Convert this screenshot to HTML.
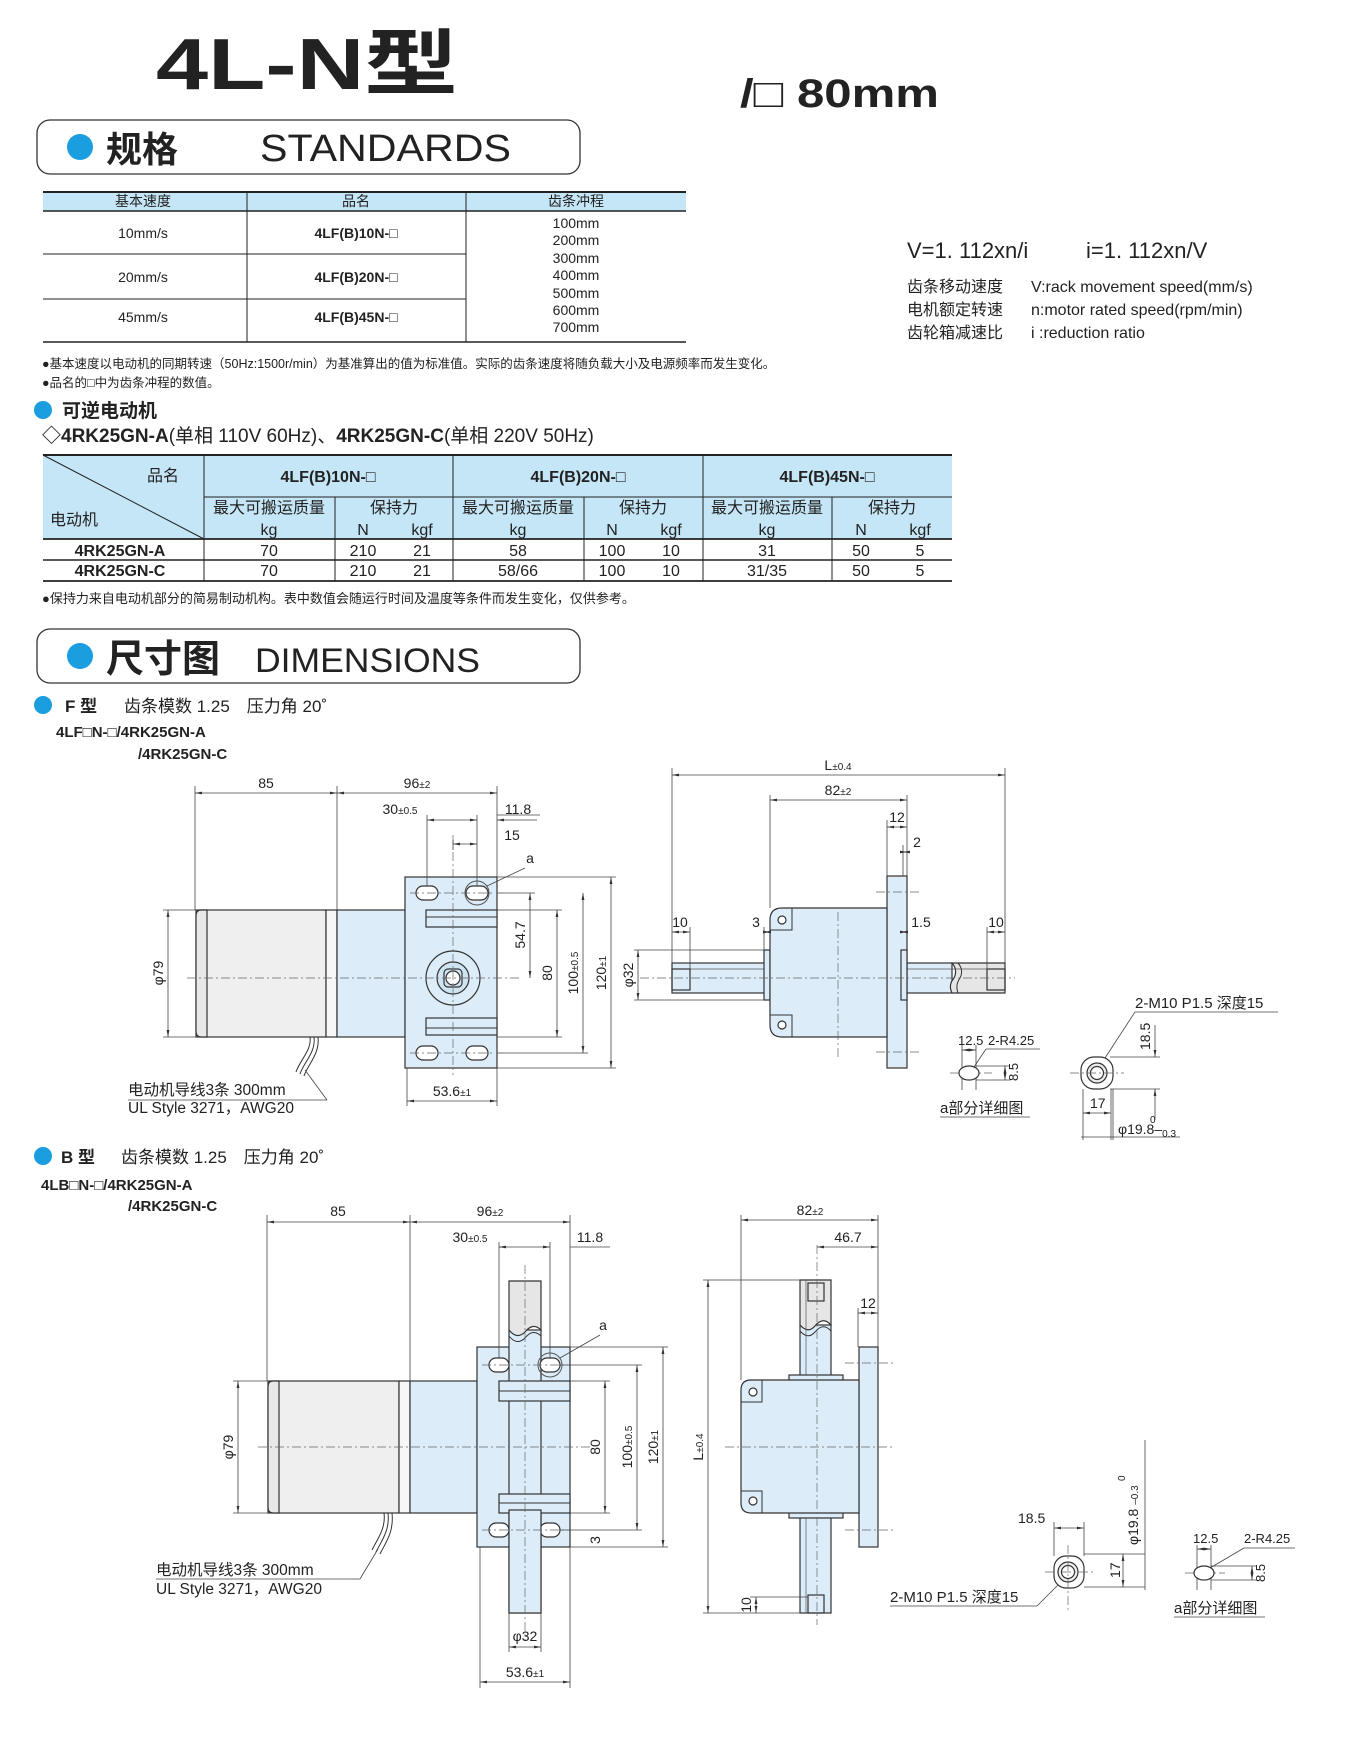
<!DOCTYPE html>
<html><head><meta charset="utf-8"><style>
html,body{margin:0;padding:0;background:#fff}
svg{display:block}
text{font-family:"Liberation Sans","Noto Sans CJK SC",sans-serif;fill:#222}
.t{font-size:14px}
.s{font-size:10px}
.b{font-weight:bold}
.d{stroke:#444;stroke-width:.8;fill:none}
.dm{stroke:#444;stroke-width:.8;fill:none;marker-start:url(#ar);marker-end:url(#ar)}
.c{stroke:#666;stroke-width:.7;stroke-dasharray:9 3 2 3;fill:none}
.o{stroke:#333;stroke-width:1.2}
.bl{fill:#dcedf9}
.gy{fill:#efefef}
.tl{stroke:#222;fill:none}
</style></head><body>
<svg width="1350" height="1750" viewBox="0 0 1350 1750" xmlns="http://www.w3.org/2000/svg">
<defs><marker id="ar" viewBox="0 0 10 10" refX="10" refY="5" markerWidth="7" markerHeight="7" orient="auto-start-reverse" markerUnits="userSpaceOnUse"><path d="M0,3L10,5L0,7z" fill="#333"/></marker></defs>

<!-- Title -->
<text x="156" y="89" font-size="72" class="b" fill="#333" textLength="302" lengthAdjust="spacingAndGlyphs">4L-N型</text>
<text x="740" y="107" font-size="40" class="b" textLength="199" lengthAdjust="spacingAndGlyphs">/□ 80mm</text>

<!-- STANDARDS box -->
<rect x="37" y="120" width="543" height="54" rx="13" fill="#fff" stroke="#333" stroke-width="1.3"/>
<circle cx="80" cy="147" r="13" fill="#1a9ee0"/>
<text x="106" y="162" font-size="36" class="b">规格</text>
<text x="260" y="161" font-size="38" textLength="251" lengthAdjust="spacingAndGlyphs">STANDARDS</text>

<!-- Table 1 -->
<rect x="43" y="192" width="643" height="19" fill="#c5e6f6"/>
<line x1="43" y1="192" x2="686" y2="192" stroke="#222" stroke-width="2"/>
<line x1="43" y1="211" x2="686" y2="211" stroke="#222" stroke-width="1.6"/>
<line x1="43" y1="342" x2="686" y2="342" stroke="#222" stroke-width="1.6"/>
<line x1="43" y1="254" x2="466" y2="254" stroke="#222"/>
<line x1="43" y1="299" x2="466" y2="299" stroke="#222"/>
<line x1="247" y1="192" x2="247" y2="342" stroke="#222"/>
<line x1="466" y1="192" x2="466" y2="342" stroke="#222"/>
<g class="t" text-anchor="middle">
<text x="143" y="206">基本速度</text><text x="356" y="206">品名</text><text x="576" y="206">齿条冲程</text>
<text x="143" y="238">10mm/s</text><text x="143" y="282">20mm/s</text><text x="143" y="322">45mm/s</text>
<text x="356" y="238" class="b">4LF(B)10N-□</text><text x="356" y="282" class="b">4LF(B)20N-□</text><text x="356" y="322" class="b">4LF(B)45N-□</text>
</g>
<g class="t" text-anchor="middle">
<text x="576" y="228">100mm</text><text x="576" y="245">200mm</text><text x="576" y="263">300mm</text><text x="576" y="280">400mm</text><text x="576" y="298">500mm</text><text x="576" y="315">600mm</text><text x="576" y="332">700mm</text>
</g>

<!-- formulas -->
<text x="907" y="258" font-size="22">V=1. 112xn/i</text>
<text x="1086" y="258" font-size="22">i=1. 112xn/V</text>
<g font-size="16">
<text x="907" y="292">齿条移动速度</text><text x="1031" y="292">V:rack movement speed(mm/s)</text>
<text x="907" y="315">电机额定转速</text><text x="1031" y="315">n:motor rated speed(rpm/min)</text>
<text x="907" y="338">齿轮箱减速比</text><text x="1031" y="338">i :reduction ratio</text>
</g>

<!-- notes -->
<g font-size="12.5">
<text x="42" y="368">●基本速度以电动机的同期转速（50Hz:1500r/min）为基准算出的值为标准值。实际的齿条速度将随负载大小及电源频率而发生变化。</text>
<text x="42" y="387">●品名的□中为齿条冲程的数值。</text>
</g>
<circle cx="43" cy="410" r="9" fill="#1a9ee0"/>
<text x="62" y="417" font-size="19" class="b">可逆电动机</text>
<text x="42" y="442" font-size="19" class="b">◇4RK25GN-A<tspan font-weight="normal">(单相 110V 60Hz)、</tspan>4RK25GN-C<tspan font-weight="normal">(单相 220V 50Hz)</tspan></text>

<!-- Table 2 -->
<rect x="43" y="455" width="909" height="84" fill="#c5e6f6"/>
<line x1="43" y1="455" x2="952" y2="455" stroke="#222" stroke-width="2"/>
<line x1="204" y1="497" x2="952" y2="497" stroke="#222"/>
<line x1="43" y1="539" x2="952" y2="539" stroke="#222" stroke-width="1.8"/>
<line x1="43" y1="560" x2="952" y2="560" stroke="#222" stroke-width="1.6"/>
<line x1="43" y1="581" x2="952" y2="581" stroke="#222" stroke-width="1.8"/>
<line x1="43" y1="455" x2="204" y2="539" stroke="#222"/>
<g stroke="#222">
<line x1="204" y1="455" x2="204" y2="581"/><line x1="453" y1="455" x2="453" y2="581"/><line x1="703" y1="455" x2="703" y2="581"/>
<line x1="335" y1="497" x2="335" y2="581"/><line x1="584" y1="497" x2="584" y2="581"/><line x1="832" y1="497" x2="832" y2="581"/>
</g>
<g font-size="16">
<text x="147" y="481">品名</text><text x="50" y="525">电动机</text>
</g>
<g font-size="16" text-anchor="middle">
<text x="328" y="482" class="b">4LF(B)10N-□</text><text x="578" y="482" class="b">4LF(B)20N-□</text><text x="827" y="482" class="b">4LF(B)45N-□</text>
<text x="269" y="513">最大可搬运质量</text><text x="394" y="513">保持力</text>
<text x="518" y="513">最大可搬运质量</text><text x="643" y="513">保持力</text>
<text x="767" y="513">最大可搬运质量</text><text x="892" y="513">保持力</text>
<text x="269" y="535">kg</text><text x="363" y="535">N</text><text x="422" y="535">kgf</text>
<text x="518" y="535">kg</text><text x="612" y="535">N</text><text x="671" y="535">kgf</text>
<text x="767" y="535">kg</text><text x="861" y="535">N</text><text x="920" y="535">kgf</text>
<text x="120" y="556" class="b">4RK25GN-A</text><text x="120" y="576" class="b">4RK25GN-C</text>
<text x="269" y="556">70</text><text x="363" y="556">210</text><text x="422" y="556">21</text>
<text x="518" y="556">58</text><text x="612" y="556">100</text><text x="671" y="556">10</text>
<text x="767" y="556">31</text><text x="861" y="556">50</text><text x="920" y="556">5</text>
<text x="269" y="576">70</text><text x="363" y="576">210</text><text x="422" y="576">21</text>
<text x="518" y="576">58/66</text><text x="612" y="576">100</text><text x="671" y="576">10</text>
<text x="767" y="576">31/35</text><text x="861" y="576">50</text><text x="920" y="576">5</text>
</g>
<text x="42" y="603" font-size="13">●保持力来自电动机部分的简易制动机构。表中数值会随运行时间及温度等条件而发生变化，仅供参考。</text>

<!-- DIMENSIONS box -->
<rect x="37" y="629" width="543" height="54" rx="13" fill="#fff" stroke="#333" stroke-width="1.3"/>
<circle cx="80" cy="656" r="13" fill="#1a9ee0"/>
<text x="106" y="672" font-size="38" class="b">尺寸图</text>
<text x="255" y="672" font-size="34" textLength="225" lengthAdjust="spacingAndGlyphs">DIMENSIONS</text>

<!-- F type header -->
<circle cx="43" cy="705" r="9" fill="#1a9ee0"/>
<text x="65" y="712" font-size="17" class="b">F 型</text>
<text x="124" y="712" font-size="17">齿条模数 1.25　压力角 20˚</text>
<text x="56" y="737" font-size="15" class="b">4LF□N-□/4RK25GN-A</text>
<text x="138" y="759" font-size="15" class="b">/4RK25GN-C</text>

<!-- ===== F front view ===== -->
<rect x="196" y="910" width="130" height="127" class="gy o"/>
<path d="M207,910 H201 Q196,910 196,916 V1031 Q196,1037 201,1037 H207 Z" fill="#e8e8e8" class="o"/>
<rect x="326" y="910" width="11" height="127" fill="#f7f7f7" class="o"/>
<rect x="337" y="910" width="68" height="127" class="bl o"/>
<rect x="405" y="877" width="92" height="191" class="bl o"/>
<rect x="426" y="910" width="71" height="17" class="bl o"/>
<line x1="426" y1="917" x2="497" y2="917" stroke="#333"/>
<rect x="426" y="1018" width="71" height="17" class="bl o"/>
<line x1="426" y1="1028" x2="497" y2="1028" stroke="#333"/>
<g class="o" fill="#fff">
<rect x="416" y="886" width="22" height="14" rx="7"/><rect x="466" y="886" width="22" height="14" rx="7"/>
<rect x="416" y="1046" width="22" height="14" rx="7"/><rect x="466" y="1046" width="22" height="14" rx="7"/>
</g>
<circle cx="477" cy="893" r="12" fill="none" stroke="#555"/>
<circle cx="453" cy="978" r="27" fill="#dcedf9" class="o"/>
<circle cx="453" cy="978" r="16" fill="#cfe4f3" class="o"/>
<rect x="444" y="969" width="18" height="18" rx="4" fill="none" class="o"/>
<circle cx="453" cy="978" r="7" fill="#fff" class="o"/>
<g class="c"><line x1="187" y1="978" x2="520" y2="978"/><line x1="453" y1="835" x2="453" y2="1075"/><line x1="410" y1="893" x2="495" y2="893"/><line x1="410" y1="1053" x2="495" y2="1053"/></g>
<path d="M310,1037 C312,1050 300,1060 296,1072 M314,1037 C316,1052 304,1062 300,1074 M318,1037 C320,1054 308,1064 304,1076" stroke="#333" fill="none"/>
<g class="d">
<line x1="195" y1="786" x2="195" y2="910"/><line x1="337" y1="786" x2="337" y2="910"/><line x1="497" y1="786" x2="497" y2="877"/>
<line x1="427" y1="815" x2="427" y2="886"/><line x1="477" y1="815" x2="477" y2="886"/><line x1="497" y1="815" x2="540" y2="815"/>
<line x1="453" y1="840" x2="453" y2="850"/>
<line x1="497" y1="893" x2="535" y2="893"/><line x1="497" y1="910" x2="562" y2="910"/><line x1="497" y1="1037" x2="562" y2="1037"/>
<line x1="497" y1="1053" x2="588" y2="1053"/><line x1="497" y1="877" x2="616" y2="877"/><line x1="497" y1="1068" x2="616" y2="1068"/>
<line x1="163" y1="910" x2="196" y2="910"/><line x1="163" y1="1037" x2="196" y2="1037"/>
<line x1="407" y1="1068" x2="407" y2="1106"/><line x1="497" y1="1068" x2="497" y2="1106"/>
<line x1="128" y1="1100" x2="327" y2="1100"/><line x1="327" y1="1100" x2="305" y2="1070"/>
<line x1="487" y1="886" x2="525" y2="868"/>
</g>
<g class="dm">
<line x1="195" y1="793" x2="337" y2="793"/><line x1="337" y1="793" x2="497" y2="793"/>
<line x1="427" y1="820" x2="477" y2="820"/><line x1="453" y1="844" x2="477" y2="844"/>
<line x1="530" y1="893" x2="530" y2="978"/><line x1="557" y1="910" x2="557" y2="1037"/>
<line x1="583" y1="893" x2="583" y2="1053"/><line x1="611" y1="877" x2="611" y2="1068"/>
<line x1="168" y1="910" x2="168" y2="1037"/><line x1="407" y1="1101" x2="497" y2="1101"/>
</g>
<line x1="507" y1="820" x2="497" y2="820" class="d" style="marker-end:url(#ar)"/>
<line x1="537" y1="820" x2="507" y2="820" class="d"/>
<g class="t" text-anchor="middle">
<text x="266" y="788">85</text><text x="417" y="788">96<tspan class="s">±2</tspan></text>
<text x="400" y="814">30<tspan class="s">±0.5</tspan></text><text x="518" y="814">11.8</text><text x="512" y="840">15</text>
<text x="452" y="1096">53.6<tspan class="s">±1</tspan></text><text x="530" y="863">a</text>
<text transform="translate(525,935) rotate(-90)">54.7</text>
<text transform="translate(552,973) rotate(-90)">80</text>
<text transform="translate(578,973) rotate(-90)">100<tspan class="s">±0.5</tspan></text>
<text transform="translate(606,973) rotate(-90)">120<tspan class="s">±1</tspan></text>
<text transform="translate(163,973) rotate(-90)">φ79</text>
<text transform="translate(633,975) rotate(-90)">φ32</text>
</g>
<text x="128" y="1095" font-size="15.5">电动机导线3条  300mm</text>
<text x="128" y="1113" font-size="15.5">UL Style 3271，AWG20</text>

<!-- ===== F side view ===== -->
<rect x="672" y="963" width="280" height="30" class="bl o"/>
<path d="M952,963 H1005 V993 H952 Q948,985 954,978 Q958,970 952,963Z" fill="#e6e6e6" class="o"/>
<path d="M958,963 Q964,970 960,978 Q955,985 958,993" fill="none" stroke="#333"/>
<line x1="672" y1="969" x2="1005" y2="969" stroke="#555" stroke-width=".7"/>
<rect x="672" y="969" width="18" height="21" fill="none" class="o"/>
<rect x="987" y="969" width="18" height="21" fill="none" class="o"/>
<rect x="887" y="876" width="20" height="192" class="bl o"/>
<rect x="764" y="950" width="6" height="50" class="bl o"/>
<rect x="901" y="950" width="6" height="50" class="bl o"/>
<path d="M782,908 H887 V1037 H782 Q770,1037 770,1025 V920 Q770,908 782,908Z" class="bl o"/>
<path d="M770,930 L792,930 L792,908 M770,1015 L792,1015 L792,1037" fill="none" stroke="#333"/>
<circle cx="782" cy="920" r="4" fill="#fff" class="o"/><circle cx="782" cy="1025" r="4" fill="#fff" class="o"/>
<g class="c"><line x1="838" y1="912" x2="838" y2="1060"/><line x1="640" y1="978" x2="1015" y2="978"/><line x1="876" y1="892" x2="922" y2="892"/><line x1="876" y1="1052" x2="922" y2="1052"/></g>
<g class="d">
<line x1="672" y1="768" x2="672" y2="963"/><line x1="1005" y1="768" x2="1005" y2="963"/>
<line x1="770" y1="795" x2="770" y2="908"/><line x1="907" y1="795" x2="907" y2="876"/>
<line x1="887" y1="820" x2="887" y2="876"/><line x1="903" y1="845" x2="903" y2="876"/>
<line x1="690" y1="927" x2="690" y2="969"/><line x1="764" y1="927" x2="764" y2="950"/><line x1="987" y1="927" x2="987" y2="969"/>
<line x1="634" y1="950" x2="764" y2="950"/><line x1="634" y1="1000" x2="764" y2="1000"/>
</g>
<g class="dm">
<line x1="672" y1="775" x2="1005" y2="775"/><line x1="770" y1="800" x2="907" y2="800"/>
<line x1="887" y1="827" x2="907" y2="827"/><line x1="903" y1="852" x2="907" y2="852"/>
<line x1="672" y1="932" x2="690" y2="932"/><line x1="764" y1="932" x2="770" y2="932"/>
<line x1="901" y1="932" x2="907" y2="932"/><line x1="987" y1="932" x2="1005" y2="932"/>
<line x1="638" y1="950" x2="638" y2="1000"/>
</g>
<g class="t" text-anchor="middle">
<text x="838" y="770">L<tspan class="s">±0.4</tspan></text><text x="838" y="795">82<tspan class="s">±2</tspan></text>
<text x="897" y="822">12</text><text x="917" y="847">2</text>
<text x="680" y="927">10</text><text x="756" y="927">3</text><text x="921" y="927">1.5</text><text x="996" y="927">10</text>
</g>

<!-- F detail a -->
<g class="c"><line x1="950" y1="1073" x2="992" y2="1073"/></g>
<g class="d">
<line x1="962" y1="1045" x2="962" y2="1090"/><line x1="976" y1="1045" x2="976" y2="1090"/>
<line x1="976" y1="1066" x2="1010" y2="1066"/><line x1="976" y1="1080" x2="1010" y2="1080"/>
<line x1="986" y1="1049" x2="1040" y2="1049"/><line x1="986" y1="1049" x2="974" y2="1067"/>
<line x1="940" y1="1117" x2="1030" y2="1117"/>
</g>
<ellipse cx="969" cy="1073" rx="10" ry="7" fill="#fff" class="o"/>
<line x1="962" y1="1050" x2="976" y2="1050" class="dm"/>
<line x1="1005" y1="1066" x2="1005" y2="1080" class="dm"/>
<g class="t"><text x="958" y="1045" font-size="13">12.5</text><text x="988" y="1045" font-size="13">2-R4.25</text>
<text transform="translate(1018,1081) rotate(-90)" font-size="13">8.5</text>
<text x="940" y="1113" font-size="15">a部分详细图</text></g>

<!-- F circle detail -->
<rect x="1081" y="1057" width="32" height="32" rx="13" fill="#fff" class="o"/>
<circle cx="1097" cy="1073" r="10" fill="#ececec" class="o"/><circle cx="1097" cy="1073" r="6.5" fill="#fff" class="o"/>
<g class="c"><line x1="1070" y1="1073" x2="1124" y2="1073"/></g>
<g class="d">
<line x1="1110" y1="1057" x2="1160" y2="1057"/><line x1="1110" y1="1089" x2="1160" y2="1089"/>
<line x1="1083" y1="1089" x2="1083" y2="1140"/><line x1="1111" y1="1089" x2="1111" y2="1140"/>
<line x1="1135" y1="1012" x2="1278" y2="1012"/><line x1="1135" y1="1012" x2="1105" y2="1058"/>
<line x1="1113" y1="1089" x2="1113" y2="1140"/>
</g>
<line x1="1155" y1="1025" x2="1155" y2="1057" class="d" style="marker-end:url(#ar)"/>
<line x1="1155" y1="1120" x2="1155" y2="1089" class="d" style="marker-end:url(#ar)"/>
<line x1="1083" y1="1113" x2="1111" y2="1113" class="dm"/>
<line x1="1081" y1="1137" x2="1180" y2="1137" class="d"/>
<g class="t">
<text x="1135" y="1008" font-size="15">2-M10 P1.5 深度15</text>
<text transform="translate(1150,1050) rotate(-90)">18.5</text>
<text x="1090" y="1108">17</text>
<text x="1118" y="1134">φ19.8–<tspan class="s" dy="3">0.3</tspan></text>
<text x="1150" y="1123" class="s">0</text>
</g>

<!-- B type header -->
<circle cx="43" cy="1156" r="9" fill="#1a9ee0"/>
<text x="61" y="1163" font-size="17" class="b">B 型</text>
<text x="121" y="1163" font-size="17">齿条模数 1.25　压力角 20˚</text>
<text x="41" y="1190" font-size="15" class="b">4LB□N-□/4RK25GN-A</text>
<text x="128" y="1211" font-size="15" class="b">/4RK25GN-C</text>

<!-- ===== B front view ===== -->
<rect x="268" y="1381" width="131" height="132" class="gy o"/>
<path d="M279,1381 H273 Q268,1381 268,1387 V1507 Q268,1513 273,1513 H279 Z" fill="#e8e8e8" class="o"/>
<rect x="399" y="1381" width="11" height="132" fill="#f7f7f7" class="o"/>
<rect x="410" y="1381" width="67" height="132" class="bl o"/>
<rect x="477" y="1347" width="93" height="200" class="bl o"/>
<rect x="509" y="1330" width="32" height="283" class="bl o"/>
<path d="M509,1281 H541 V1330 Q533,1322 525,1332 Q517,1340 509,1330Z" fill="#e6e6e6" class="o"/>
<path d="M509,1336 Q517,1346 525,1338 Q533,1328 541,1336" fill="none" stroke="#333"/>
<rect x="499" y="1381" width="71" height="20" class="bl o"/><line x1="499" y1="1391" x2="570" y2="1391" stroke="#333"/>
<rect x="499" y="1494" width="71" height="19" class="bl o"/><line x1="499" y1="1503" x2="570" y2="1503" stroke="#333"/>
<g class="o" fill="#fff">
<rect x="489" y="1358" width="20" height="14" rx="7"/><rect x="540" y="1358" width="20" height="14" rx="7"/>
<rect x="489" y="1523" width="20" height="14" rx="7"/><rect x="540" y="1523" width="20" height="14" rx="7"/>
</g>
<rect x="509" y="1510" width="32" height="103" class="bl o"/>
<circle cx="550" cy="1365" r="12" fill="none" stroke="#555"/>
<g class="c"><line x1="525" y1="1265" x2="525" y2="1640"/><line x1="258" y1="1447" x2="590" y2="1447"/><line x1="482" y1="1365" x2="568" y2="1365"/><line x1="482" y1="1530" x2="568" y2="1530"/></g>
<path d="M384,1513 C386,1528 378,1538 372,1550 M388,1513 C390,1530 382,1540 376,1552 M392,1513 C394,1532 386,1542 380,1554" stroke="#333" fill="none"/>
<g class="d">
<line x1="267" y1="1215" x2="267" y2="1381"/><line x1="410" y1="1215" x2="410" y2="1381"/><line x1="570" y1="1215" x2="570" y2="1347"/>
<line x1="499" y1="1242" x2="499" y2="1358"/><line x1="550" y1="1242" x2="550" y2="1358"/><line x1="570" y1="1247" x2="610" y2="1247"/>
<line x1="570" y1="1381" x2="610" y2="1381"/><line x1="570" y1="1513" x2="610" y2="1513"/>
<line x1="560" y1="1365" x2="642" y2="1365"/><line x1="560" y1="1530" x2="642" y2="1530"/>
<line x1="570" y1="1347" x2="668" y2="1347"/><line x1="570" y1="1547" x2="668" y2="1547"/>
<line x1="233" y1="1381" x2="268" y2="1381"/><line x1="233" y1="1513" x2="268" y2="1513"/>
<line x1="480" y1="1547" x2="480" y2="1688"/><line x1="570" y1="1547" x2="570" y2="1688"/>
<line x1="509" y1="1613" x2="509" y2="1652"/><line x1="541" y1="1613" x2="541" y2="1652"/>
<line x1="156" y1="1579" x2="360" y2="1579"/><line x1="360" y1="1579" x2="378" y2="1549"/>
<line x1="560" y1="1358" x2="600" y2="1335"/>
</g>
<g class="dm">
<line x1="267" y1="1222" x2="410" y2="1222"/><line x1="410" y1="1222" x2="570" y2="1222"/>
<line x1="499" y1="1247" x2="550" y2="1247"/>
<line x1="605" y1="1381" x2="605" y2="1513"/><line x1="637" y1="1365" x2="637" y2="1530"/>
<line x1="663" y1="1347" x2="663" y2="1547"/><line x1="238" y1="1381" x2="238" y2="1513"/>
<line x1="509" y1="1647" x2="541" y2="1647"/><line x1="480" y1="1682" x2="570" y2="1682"/>
</g>
<g class="t" text-anchor="middle">
<text x="338" y="1216">85</text><text x="490" y="1216">96<tspan class="s">±2</tspan></text>
<text x="470" y="1242">30<tspan class="s">±0.5</tspan></text><text x="590" y="1242">11.8</text>
<text x="603" y="1330">a</text>
<text x="525" y="1641">φ32</text><text x="525" y="1677">53.6<tspan class="s">±1</tspan></text>
<text transform="translate(600,1447) rotate(-90)">80</text>
<text transform="translate(632,1447) rotate(-90)">100<tspan class="s">±0.5</tspan></text>
<text transform="translate(658,1447) rotate(-90)">120<tspan class="s">±1</tspan></text>
<text transform="translate(233,1447) rotate(-90)">φ79</text>
<text transform="translate(600,1540) rotate(-90)">3</text>
</g>
<text x="156" y="1575" font-size="15.5">电动机导线3条  300mm</text>
<text x="156" y="1594" font-size="15.5">UL Style 3271，AWG20</text>

<!-- ===== B side view ===== -->
<rect x="800" y="1325" width="31" height="288" class="bl o"/>
<path d="M800,1280 H831 V1325 Q823,1316 815,1326 Q808,1334 800,1325Z" fill="#e6e6e6" class="o"/>
<path d="M800,1331 Q808,1340 815,1332 Q823,1322 831,1331" fill="none" stroke="#333"/>
<rect x="808" y="1283" width="16" height="18" fill="none" class="o"/>
<rect x="808" y="1595" width="16" height="18" fill="none" class="o"/>
<line x1="806" y1="1280" x2="806" y2="1613" stroke="#555" stroke-width=".7"/>
<rect x="859" y="1347" width="19" height="200" class="bl o"/>
<rect x="789" y="1375" width="54" height="6" class="bl o"/>
<rect x="789" y="1512" width="54" height="6" class="bl o"/>
<path d="M751,1380 H859 V1513 H751 Q741,1513 741,1503 V1390 Q741,1380 751,1380Z" class="bl o"/>
<path d="M741,1402 L762,1402 L762,1380 M741,1491 L762,1491 L762,1513" fill="none" stroke="#333"/>
<circle cx="753" cy="1392" r="4" fill="#fff" class="o"/><circle cx="753" cy="1501" r="4" fill="#fff" class="o"/>
<g class="c"><line x1="817" y1="1245" x2="817" y2="1625"/><line x1="725" y1="1447" x2="895" y2="1447"/><line x1="845" y1="1363" x2="895" y2="1363"/><line x1="845" y1="1530" x2="895" y2="1530"/></g>
<g class="d">
<line x1="741" y1="1215" x2="741" y2="1380"/><line x1="878" y1="1215" x2="878" y2="1347"/>
<line x1="858" y1="1308" x2="858" y2="1347"/>
<line x1="703" y1="1280" x2="800" y2="1280"/><line x1="703" y1="1613" x2="800" y2="1613"/>
<line x1="750" y1="1597" x2="808" y2="1597"/>
</g>
<g class="dm">
<line x1="741" y1="1220" x2="878" y2="1220"/><line x1="817" y1="1247" x2="878" y2="1247"/>
<line x1="858" y1="1313" x2="878" y2="1313"/><line x1="708" y1="1280" x2="708" y2="1613"/>
<line x1="756" y1="1597" x2="756" y2="1613"/>
</g>
<g class="t" text-anchor="middle">
<text x="810" y="1215">82<tspan class="s">±2</tspan></text><text x="848" y="1242">46.7</text><text x="868" y="1308">12</text>
<text transform="translate(703,1447) rotate(-90)">L<tspan class="s">±0.4</tspan></text>
<text transform="translate(751,1605) rotate(-90)">10</text>
</g>

<!-- B circle detail -->
<rect x="1054" y="1556" width="30" height="32" rx="12" fill="#fff" class="o"/>
<circle cx="1068" cy="1572" r="10" fill="#ececec" class="o"/><circle cx="1068" cy="1572" r="6.5" fill="#fff" class="o"/>
<g class="c"><line x1="1045" y1="1572" x2="1095" y2="1572"/><line x1="1068" y1="1545" x2="1068" y2="1612"/></g>
<g class="d">
<line x1="1054" y1="1522" x2="1054" y2="1556"/><line x1="1084" y1="1522" x2="1084" y2="1556"/>
<line x1="1084" y1="1554" x2="1145" y2="1554"/><line x1="1084" y1="1587" x2="1145" y2="1587"/>
<line x1="1145" y1="1440" x2="1145" y2="1590"/>
<line x1="890" y1="1606" x2="1037" y2="1606"/><line x1="1037" y1="1606" x2="1058" y2="1585"/>
</g>
<line x1="1054" y1="1528" x2="1084" y2="1528" class="dm"/>
<line x1="1123" y1="1554" x2="1123" y2="1587" class="dm"/>
<g class="t">
<text x="1018" y="1523">18.5</text>
<text transform="translate(1120,1578) rotate(-90)">17</text>
<text transform="translate(1138,1545) rotate(-90)">φ19.8 <tspan class="s">–0.3</tspan></text>
<text transform="translate(1125,1481) rotate(-90)" class="s">0</text>
<text x="890" y="1602" font-size="15">2-M10 P1.5 深度15</text>
</g>

<!-- B detail a -->
<g class="c"><line x1="1185" y1="1573" x2="1225" y2="1573"/></g>
<g class="d">
<line x1="1197" y1="1545" x2="1197" y2="1590"/><line x1="1211" y1="1545" x2="1211" y2="1590"/>
<line x1="1211" y1="1566" x2="1257" y2="1566"/><line x1="1211" y1="1580" x2="1257" y2="1580"/>
<line x1="1244" y1="1548" x2="1295" y2="1548"/><line x1="1244" y1="1548" x2="1210" y2="1568"/>
<line x1="1174" y1="1617" x2="1265" y2="1617"/>
</g>
<ellipse cx="1204" cy="1573" rx="10" ry="7" fill="#fff" class="o"/>
<line x1="1197" y1="1549" x2="1211" y2="1549" class="dm"/>
<line x1="1252" y1="1566" x2="1252" y2="1580" class="dm"/>
<g class="t"><text x="1193" y="1543" font-size="13">12.5</text><text x="1244" y="1543" font-size="13">2-R4.25</text>
<text transform="translate(1265,1582) rotate(-90)" font-size="13">8.5</text>
<text x="1174" y="1613" font-size="15">a部分详细图</text></g>
</svg>
</body></html>
